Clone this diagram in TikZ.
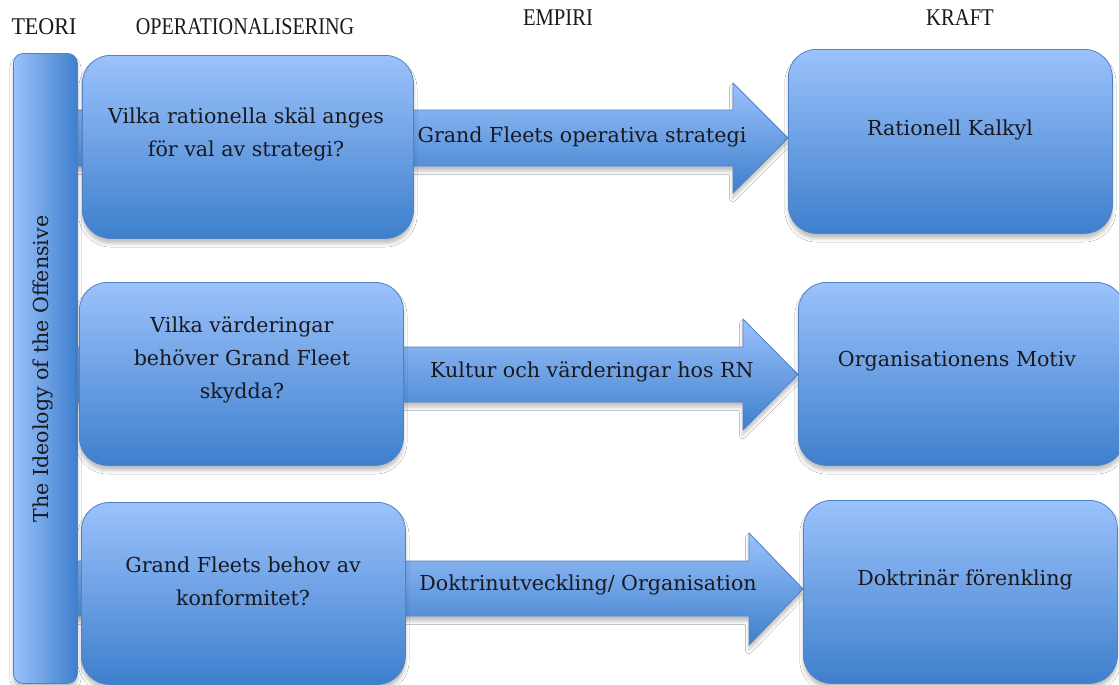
\documentclass[tikz,border=0pt]{standalone}
\usepackage{fontspec}
\setmainfont{Liberation Serif}
\newfontfamily\lblfont{DejaVu Serif}
\usetikzlibrary{shadows.blur}
\definecolor{boxtop}{RGB}{155,194,251}
\definecolor{boxbot}{RGB}{62,127,205}
\definecolor{boxline}{RGB}{82,130,196}
\definecolor{txt}{RGB}{25,25,30}
\begin{document}
\begin{tikzpicture}[x=0.5pt,y=-0.5pt,
  shade/.style={draw=boxline, line width=0.4pt, top color=boxtop, bottom color=boxbot,
     blur shadow={shadow xshift=0pt, shadow yshift=-2.5pt, shadow blur radius=1.8pt, shadow opacity=25}},
  box/.style={shade, rounded corners=14pt, anchor=north west, inner sep=0pt},
  bar/.style={draw=boxline, line width=0.4pt, left color=boxtop, right color=boxbot,
     rounded corners=5pt, anchor=north west, inner sep=0pt,
     blur shadow={shadow xshift=0pt, shadow yshift=-2.5pt, shadow blur radius=1.8pt, shadow opacity=25}},
  blockarrow/.style={shade},
  lbl/.style={text=txt, font=\lblfont\fontsize{10.3}{16.5}\selectfont, align=center, inner sep=0pt},
  head/.style={text=txt, font=\fontsize{12}{13}\selectfont, inner sep=0pt},
]
\useasboundingbox (0,0) rectangle (1119,685);
\fill[white] (0,0) rectangle (1119,685);

% headers
\node[head] (hteori) at (44,27) {\scalebox{0.92}[1]{TEORI}};
\node[head] (hoper) at (245,27) {\scalebox{0.84}[1]{OPERATIONALISERING}};
\node[head] (hemp) at (558,18) {\scalebox{0.86}[1]{EMPIRI}};
\node[head] (hkraft) at (960,18) {\scalebox{0.86}[1]{KRAFT}};

% block arrows (drawn first, behind the boxes)
\path[blockarrow] (60,110) -- (733,110) -- (733,83) -- (788,138) -- (733,193) -- (733,166) -- (60,166) -- cycle;
\path[blockarrow] (60,347) -- (743,347) -- (743,319) -- (798,374.5) -- (743,430) -- (743,402) -- (60,402) -- cycle;
\path[blockarrow] (60,561) -- (749,561) -- (749,533) -- (803,589) -- (749,645) -- (749,616) -- (60,616) -- cycle;

% theory bar
\node[bar, minimum width=32pt, minimum height=315pt] (teori) at (13,53) {};
\node[lbl, rotate=90] (teorit) at (43,369) {The Ideology of the Offensive};

% operationalisation boxes
\node[box, minimum width=165.5pt, minimum height=91.5pt] (q1) at (82,55) {};
\node[box, minimum width=162pt, minimum height=91.5pt] (q2) at (79,282) {};
\node[box, minimum width=162pt, minimum height=91pt] (q3) at (81,502) {};

% force boxes
\node[box, minimum width=162pt, minimum height=92pt] (k1) at (788,49) {};
\node[box, minimum width=163pt, minimum height=91.5pt] (k2) at (798,282) {};
\node[box, minimum width=157pt, minimum height=91.5pt] (k3) at (803,500) {};

% texts
\node[lbl] (q1t) at (246,134) {Vilka rationella skäl anges\\för val av strategi?};
\node[lbl] (q2t) at (242,360) {Vilka värderingar\\behöver Grand Fleet\\skydda?};
\node[lbl] (q3t) at (243,581) {Grand Fleets behov av\\konformitet?};

\node[lbl] (a1t) at (582,137) {Grand Fleets operativa strategi};
\node[lbl] (a2t) at (592,372) {Kultur och värderingar hos RN};
\node[lbl] (a3t) at (588,585) {Doktrinutveckling/ Organisation};

\node[lbl] (k1t) at (950,130) {Rationell Kalkyl};
\node[lbl] (k2t) at (957,361) {Organisationens Motiv};
\node[lbl] (k3t) at (965,580) {Doktrinär förenkling};
\end{tikzpicture}
\end{document}
